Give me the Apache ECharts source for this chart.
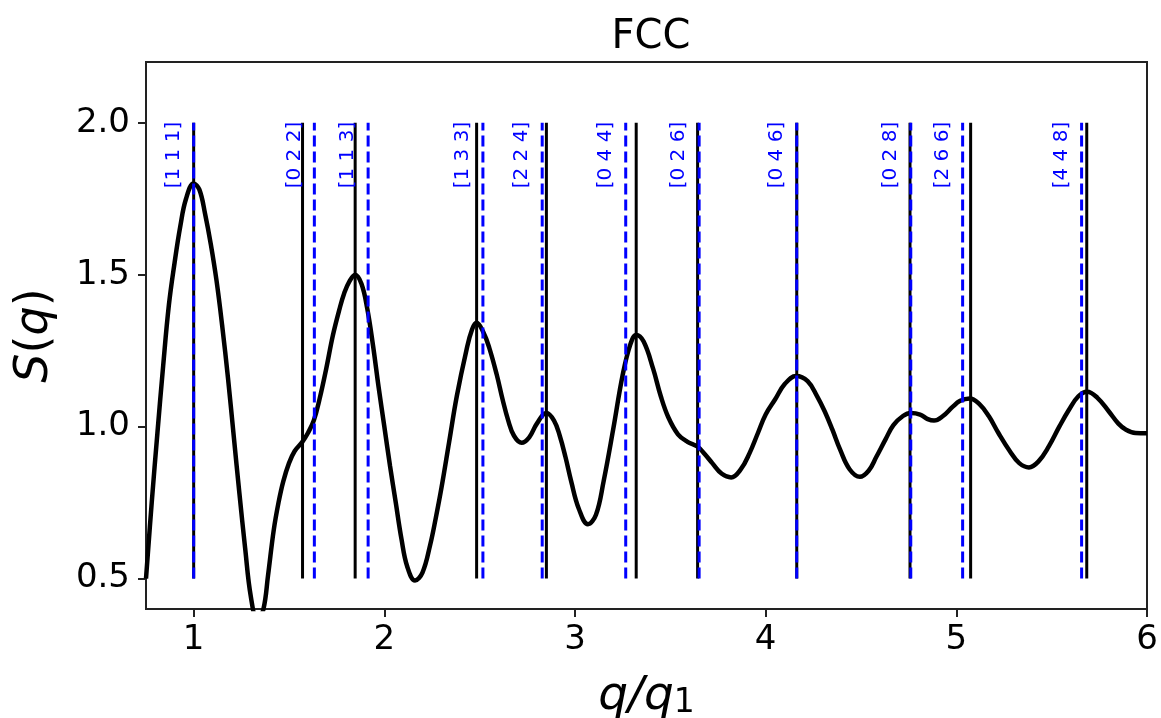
<!DOCTYPE html>
<html>
<head>
<meta charset="utf-8">
<script src="https://cdn.jsdelivr.net/npm/echarts@6/dist/echarts.min.js"></script>
<style>
  html, body { margin: 0; padding: 0; background: #fff; }
  #chart { width: 1161px; height: 718px; }
</style>
</head>
<body>
<div id="chart"></div>
<script>
// Structure factor S(q) against q/q1, with FCC reflection positions
const qRatio = [
  0.75, 0.78, 0.81, 0.84, 0.87, 0.90, 0.93, 0.96, 1.00,
  1.03, 1.06, 1.09, 1.12, 1.15, 1.18, 1.21, 1.24, 1.27, 1.30,
  1.335, 1.366, 1.39, 1.42, 1.445, 1.47, 1.50, 1.53, 1.57, 1.60,
  1.63, 1.66, 1.695, 1.73, 1.764, 1.79, 1.817, 1.847, 1.88, 1.91,
  1.94, 1.97, 2.00, 2.03, 2.06, 2.09, 2.12, 2.161, 2.20, 2.24,
  2.27, 2.30, 2.34, 2.38, 2.43, 2.46, 2.484, 2.52, 2.55, 2.59,
  2.62, 2.65, 2.68, 2.72, 2.76, 2.80, 2.85, 2.89, 2.92, 2.95,
  2.98, 3.02, 3.068, 3.11, 3.15, 3.20, 3.25, 3.29, 3.321, 3.36,
  3.41, 3.45, 3.49, 3.54, 3.59, 3.644, 3.68, 3.72, 3.77, 3.819,
  3.87, 3.915, 3.96, 4.00, 4.05, 4.10, 4.16, 4.22, 4.27, 4.31,
  4.35, 4.39, 4.44, 4.494, 4.54, 4.58, 4.63, 4.67, 4.72, 4.761,
  4.81, 4.85, 4.883, 4.93, 4.98, 5.02, 5.07, 5.12, 5.17, 5.22,
  5.28, 5.33, 5.381, 5.43, 5.485, 5.54, 5.59, 5.64, 5.686, 5.74,
  5.80, 5.85, 5.89, 5.94, 6.00
];
const sq = [
  0.50, 0.75, 0.98, 1.20, 1.40, 1.54, 1.66, 1.75, 1.80,
  1.78, 1.70, 1.60, 1.48, 1.33, 1.16, 0.97, 0.78, 0.60, 0.44,
  0.36, 0.40, 0.51, 0.66, 0.75, 0.82, 0.88, 0.92, 0.95, 0.98,
  1.02, 1.09, 1.19, 1.30, 1.385, 1.44, 1.478, 1.50, 1.47, 1.39,
  1.27, 1.13, 1.00, 0.87, 0.75, 0.63, 0.54, 0.494, 0.52, 0.61,
  0.70, 0.80, 0.95, 1.10, 1.25, 1.32, 1.342, 1.31, 1.26, 1.17,
  1.09, 1.02, 0.97, 0.947, 0.965, 1.01, 1.045, 1.02, 0.97, 0.90,
  0.82, 0.73, 0.679, 0.71, 0.82, 0.99, 1.17, 1.27, 1.302, 1.28,
  1.19, 1.10, 1.03, 0.975, 0.95, 0.934, 0.91, 0.88, 0.845, 0.833,
  0.86, 0.912, 0.98, 1.04, 1.09, 1.14, 1.167, 1.15, 1.10, 1.05,
  0.99, 0.925, 0.86, 0.835, 0.855, 0.90, 0.96, 1.005, 1.035, 1.045,
  1.04, 1.025, 1.02, 1.035, 1.065, 1.085, 1.093, 1.075, 1.035, 0.98,
  0.92, 0.88, 0.866, 0.885, 0.935, 1.00, 1.055, 1.10, 1.115, 1.095,
  1.05, 1.01, 0.99, 0.979, 0.978
];

// Ideal FCC reflections (dashed blue) and measured peak positions (solid black)
const hklLabels = ['[1 1 1]', '[0 2 2]', '[1 1 3]', '[1 3 3]', '[2 2 4]', '[0 4 4]',
                   '[0 2 6]', '[0 4 6]', '[0 2 8]', '[2 6 6]', '[4 4 8]'];
const idealPeaks = [1.000, 1.633, 1.915, 2.517, 2.828, 3.266, 3.651, 4.163, 4.761, 5.033, 5.657];
const measuredPeaks = [1.000, 1.571, 1.847, 2.484, 2.850, 3.321, 3.643, 4.163, 4.757, 5.075, 5.684];
const markerRange = [0.5, 2.0];

const xTicks = [1, 2, 3, 4, 5, 6];
const yTicks = [0.5, 1.0, 1.5, 2.0];

const FONT = '"DejaVu Sans", "Liberation Sans", sans-serif';

const curveData = qRatio.map((q, i) => [q, sq[i]]);

function vline(color, width, dash) {
  return function (params, api) {
    const x = api.value(0);
    const p0 = api.coord([x, markerRange[0]]);
    const p1 = api.coord([x, markerRange[1]]);
    return {
      type: 'line',
      shape: { x1: p0[0], y1: p0[1], x2: p1[0], y2: p1[1] },
      style: { stroke: color, lineWidth: width, lineDash: dash || null }
    };
  };
}

const chart = echarts.init(document.getElementById('chart'), null, { renderer: 'canvas' });

chart.setOption({
  animation: false,
  backgroundColor: '#fff',
  title: {
    text: 'FCC',
    left: 646,
    top: 13,
    textAlign: 'center',
    textStyle: { fontFamily: FONT, fontSize: 40, fontWeight: 'normal', color: '#000' }
  },
  grid: {
    left: 146, right: 14, top: 62, bottom: 109,
    outerBoundsMode: 'none',
    containLabel: false,
    show: true, borderColor: '#222', borderWidth: 2, backgroundColor: 'transparent'
  },
  xAxis: {
    type: 'value',
    min: 0.75, max: 6,
    name: '{i|q/q}{s|1}',
    nameLocation: 'middle',
    nameGap: 35,
    nameTextStyle: {
      rich: {
        i: { fontFamily: FONT, fontStyle: 'italic', fontSize: 47, color: '#000', lineHeight: 76, verticalAlign: 'bottom' },
        s: { fontFamily: FONT, fontSize: 33, color: '#000', lineHeight: 30, verticalAlign: 'bottom' }
      }
    },
    axisLine: { show: true, onZero: false, lineStyle: { color: '#222', width: 2 } },
    axisTick: { show: true, customValues: xTicks, length: 8, lineStyle: { color: '#222', width: 2 } },
    axisLabel: { customValues: xTicks, fontFamily: FONT, fontSize: 34, color: '#000', margin: 14 },
    splitLine: { show: false }
  },
  yAxis: {
    type: 'value',
    min: 0.4, max: 2.2,
    name: '{i|S}{n|(}{i|q}{n|)}',
    nameLocation: 'middle',
    nameRotate: 90,
    nameGap: 88,
    nameTextStyle: {
      rich: {
        i: { fontFamily: FONT, fontStyle: 'italic', fontSize: 46, color: '#000' },
        n: { fontFamily: FONT, fontSize: 46, color: '#000' }
      }
    },
    axisLine: { show: true, onZero: false, lineStyle: { color: '#222', width: 2 } },
    axisTick: { show: true, customValues: yTicks, length: 8, lineStyle: { color: '#222', width: 2 } },
    axisLabel: {
      customValues: yTicks, fontFamily: FONT, fontSize: 34, color: '#000', margin: 16,
      formatter: v => v.toFixed(1)
    },
    splitLine: { show: false }
  },
  series: [
    {
      type: 'line',
      data: curveData,
      smooth: 0.4,
      showSymbol: false,
      clip: true,
      lineStyle: { color: '#000', width: 4.5 },
      z: 2
    },
    {
      type: 'custom',
      data: measuredPeaks.map(x => [x, markerRange[1]]),
      encode: { x: 0, y: 1 },
      renderItem: vline('#000', 3),
      z: 3
    },
    {
      type: 'custom',
      data: idealPeaks.map(x => [x, markerRange[1]]),
      encode: { x: 0, y: 1 },
      renderItem: vline('#0000ff', 3, [11, 5]),
      z: 4
    },
    {
      type: 'custom',
      data: idealPeaks.map((x, i) => [x, markerRange[1], i]),
      encode: { x: 0, y: 1 },
      renderItem: function (params, api) {
        const p = api.coord([api.value(0), markerRange[1]]);
        return {
          type: 'text',
          x: p[0] - 20,
          y: p[1] - 1,
          rotation: Math.PI / 2,
          style: {
            text: hklLabels[api.value(2)],
            fill: '#0000ff',
            font: '20px ' + FONT,
            align: 'right',
            verticalAlign: 'middle'
          }
        };
      },
      z: 5
    }
  ]
});
</script>
</body>
</html>
